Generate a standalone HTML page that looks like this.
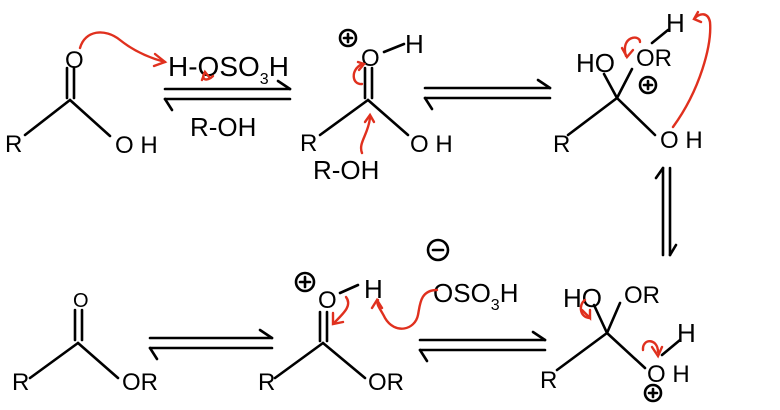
<!DOCTYPE html>
<html><head><meta charset="utf-8"><style>
html,body{margin:0;padding:0;background:#fff;width:780px;height:410px;overflow:hidden}
svg text{font-family:"Liberation Sans",sans-serif;fill:#000}
</style></head><body>
<svg width="780" height="410" viewBox="0 0 780 410" xmlns="http://www.w3.org/2000/svg">
<g stroke="#000" stroke-width="2.6" fill="none" stroke-linecap="round">
<line x1="67" y1="68" x2="67" y2="98"/><line x1="74" y1="68" x2="74" y2="98"/>
<line x1="70" y1="100" x2="25" y2="135"/><line x1="70" y1="100" x2="110" y2="136"/>
<line x1="165" y1="89" x2="290" y2="89"/><line x1="290" y1="89" x2="278" y2="81"/>
<line x1="165" y1="99" x2="290" y2="99"/><line x1="165" y1="99" x2="172" y2="110"/>
<line x1="365" y1="68" x2="365" y2="98"/><line x1="372" y1="68" x2="372" y2="98"/>
<line x1="368" y1="100" x2="320" y2="135"/><line x1="368" y1="100" x2="408" y2="135"/>
<line x1="384" y1="52" x2="404" y2="44"/>
<circle cx="348" cy="38" r="8"/><line x1="344" y1="38" x2="352" y2="38"/><line x1="348" y1="34" x2="348" y2="42"/>
<line x1="425" y1="88" x2="550" y2="88"/><line x1="550" y1="88" x2="538" y2="80"/>
<line x1="425" y1="98" x2="550" y2="98"/><line x1="425" y1="98" x2="432" y2="109"/>
<line x1="617" y1="98" x2="568" y2="135"/><line x1="617" y1="98" x2="655" y2="135"/>
<line x1="617" y1="98" x2="604" y2="74"/><line x1="617" y1="98" x2="632" y2="69"/>
<line x1="652" y1="43" x2="668" y2="30"/>
<circle cx="648" cy="85" r="8"/><line x1="644" y1="85" x2="652" y2="85"/><line x1="648" y1="81" x2="648" y2="89"/>
<line x1="663" y1="168" x2="663" y2="255"/><line x1="663" y1="168" x2="656" y2="178"/>
<line x1="670" y1="168" x2="670" y2="255"/><line x1="670" y1="255" x2="676" y2="245"/>
<line x1="75" y1="310" x2="75" y2="340"/><line x1="82" y1="310" x2="82" y2="340"/>
<line x1="78" y1="343" x2="30" y2="378"/><line x1="78" y1="343" x2="118" y2="378"/>
<line x1="150" y1="338" x2="272" y2="338"/><line x1="272" y1="338" x2="260" y2="330"/>
<line x1="150" y1="348" x2="272" y2="348"/><line x1="150" y1="348" x2="157" y2="359"/>
<line x1="320" y1="312" x2="320" y2="341"/><line x1="327" y1="312" x2="327" y2="341"/>
<line x1="323" y1="343" x2="275" y2="378"/><line x1="323" y1="343" x2="365" y2="378"/>
<line x1="340" y1="293" x2="358" y2="285"/>
<circle cx="305" cy="282" r="9"/><line x1="300" y1="282" x2="310" y2="282"/><line x1="305" y1="277" x2="305" y2="287"/>
<circle cx="438" cy="250" r="10"/><line x1="433" y1="250" x2="443" y2="250"/>
<line x1="420" y1="340" x2="545" y2="340"/><line x1="545" y1="340" x2="533" y2="332"/>
<line x1="420" y1="350" x2="545" y2="350"/><line x1="420" y1="350" x2="427" y2="361"/>
<line x1="607" y1="333" x2="557" y2="370"/><line x1="607" y1="333" x2="645" y2="368"/>
<line x1="607" y1="333" x2="594" y2="305"/><line x1="607" y1="333" x2="620" y2="303"/>
<line x1="662" y1="355" x2="680" y2="340"/>
<circle cx="653" cy="393" r="8"/><line x1="649" y1="393" x2="657" y2="393"/><line x1="653" y1="389" x2="653" y2="397"/>
</g>
<g font-size="24">
<text x="65" y="68">O</text>
<text x="5" y="152">R</text>
<text x="115" y="153">O H</text>
<text x="168" y="76" font-size="28">H-OSO<tspan font-size="16" dy="8">3</tspan><tspan dy="-8">H</tspan></text>
<text x="190" y="136" font-size="26">R-OH</text>
<text x="361" y="66">O</text>
<text x="405" y="53" font-size="26">H</text>
<text x="300" y="151">R</text>
<text x="313" y="179" font-size="26">R-OH</text>
<text x="410" y="152">O H</text>
<text x="576" y="72" font-size="26">HO</text>
<text x="636" y="66">OR</text>
<text x="666" y="32" font-size="26">H</text>
<text x="553" y="152">R</text>
<text x="660" y="148">O H</text>
<text x="73" y="307" font-size="20">O</text>
<text x="12" y="390">R</text>
<text x="122" y="390">OR</text>
<text x="318" y="308">O</text>
<text x="364" y="298" font-size="26">H</text>
<text x="258" y="390">R</text>
<text x="368" y="390">OR</text>
<text x="433" y="302" font-size="26">OSO<tspan font-size="16" dy="8">3</tspan><tspan dy="-8">H</tspan></text>
<text x="563" y="307" font-size="26">HO</text>
<text x="624" y="303">OR</text>
<text x="677" y="342" font-size="26">H</text>
<text x="540" y="388">R</text>
<text x="647" y="382">O H</text>
</g>
<g stroke="#e0301e" stroke-width="2.4" fill="none" stroke-linecap="round">
<path d="M80 48 C85 30 105 28 120 40 C135 52 150 58 165 62"/><path d="M155 54 L165 62 L154 66"/>
<path d="M213 76 C207 82 200 80 205 72"/><path d="M202 80 L205 72 L210 78"/>
<path d="M362 64 C350 70 352 85 362 84"/><path d="M358 62 L364 64 L359 70"/>
<path d="M362 153 C358 143 368 135 370 118"/><path d="M365 122 L370 115 L374 122"/>
<path d="M626 56 C620 36 640 34 640 42"/><path d="M622 48 L627 57 L633 50"/>
<path d="M673 127 C700 90 712 45 710 22 C708 12 700 13 695 18"/><path d="M698 12 L694 19 L701 22"/>
<path d="M437 290 C420 290 420 305 418 315 C415 330 395 335 385 318 C380 308 376 305 378 300"/><path d="M372 308 L377 300 L382 308"/>
<path d="M346 297 C352 305 345 312 335 322"/><path d="M333 313 L333 324 L343 322"/>
<path d="M590 318 C580 318 578 305 585 300"/><path d="M582 310 L590 318 L590 310"/>
<path d="M643 350 C642 338 658 338 658 352"/><path d="M652 347 L658 356 L662 347"/>
</g>
</svg>
</body></html>
